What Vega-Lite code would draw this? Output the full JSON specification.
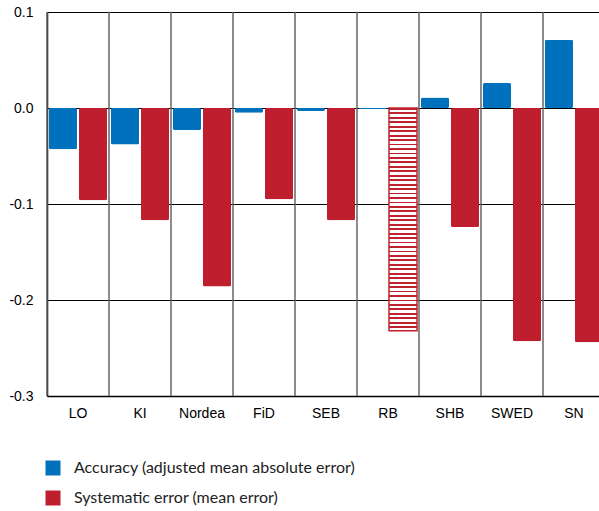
{
  "$schema": "https://vega.github.io/schema/vega-lite/v6.json",
  "width": 552,
  "height": 384,
  "autosize": {"type": "none"},
  "padding": {"left": 47, "top": 12, "right": 0, "bottom": 115},
  "background": "white",
  "config": {
    "view": {"stroke": null},
    "font": "Liberation Sans",
    "axisX": {
      "title": null, "labelAngle": 0, "labelAlign": "center", "labelBaseline": "top",
      "labelFont": "Liberation Sans", "labelFontSize": 14, "labelColor": "#000000",
      "labelPadding": 10, "ticks": false, "tickSize": 0, "grid": false, "bandPosition": 0.5,
      "domain": true, "domainColor": "#000000", "domainWidth": 1.5
    },
    "axisY": {"labelFont": "Liberation Sans"}
  },
  "data": {
    "values": [
      {"bank": "LO", "series": "Accuracy (adjusted mean absolute error)", "value": -0.043},
      {"bank": "LO", "series": "Systematic error (mean error)", "value": -0.096},
      {"bank": "KI", "series": "Accuracy (adjusted mean absolute error)", "value": -0.038},
      {"bank": "KI", "series": "Systematic error (mean error)", "value": -0.117},
      {"bank": "Nordea", "series": "Accuracy (adjusted mean absolute error)", "value": -0.023},
      {"bank": "Nordea", "series": "Systematic error (mean error)", "value": -0.186},
      {"bank": "FiD", "series": "Accuracy (adjusted mean absolute error)", "value": -0.005},
      {"bank": "FiD", "series": "Systematic error (mean error)", "value": -0.095},
      {"bank": "SEB", "series": "Accuracy (adjusted mean absolute error)", "value": -0.003},
      {"bank": "SEB", "series": "Systematic error (mean error)", "value": -0.117},
      {"bank": "RB", "series": "Accuracy (adjusted mean absolute error)", "value": -0.001},
      {"bank": "RB", "series": "Systematic error (mean error)", "value": -0.232},
      {"bank": "SHB", "series": "Accuracy (adjusted mean absolute error)", "value": 0.011},
      {"bank": "SHB", "series": "Systematic error (mean error)", "value": -0.124},
      {"bank": "SWED", "series": "Accuracy (adjusted mean absolute error)", "value": 0.026},
      {"bank": "SWED", "series": "Systematic error (mean error)", "value": -0.243},
      {"bank": "SN", "series": "Accuracy (adjusted mean absolute error)", "value": 0.071},
      {"bank": "SN", "series": "Systematic error (mean error)", "value": -0.244}
    ]
  },
  "layer": [
    {
      "transform": [{"filter": "datum.series === 'Accuracy (adjusted mean absolute error)'"}],
      "mark": {"type": "rule", "color": "#666666", "strokeWidth": 1.5},
      "encoding": {
        "x": {
          "field": "bank", "type": "nominal", "bandPosition": 0,
          "sort": ["LO", "KI", "Nordea", "FiD", "SEB", "RB", "SHB", "SWED", "SN"],
          "scale": {"range": [0, 558], "paddingInner": 0, "paddingOuter": 0},
          "axis": {"bandPosition": 0.5, "labelAlign": "center"}
        }
      }
    },
    {
      "transform": [{"filter": "!(datum.bank === 'RB' && datum.series === 'Systematic error (mean error)')"}],
      "mark": {"type": "bar", "cornerRadius": 1.5},
      "encoding": {
        "x": {
          "field": "bank", "type": "nominal",
          "sort": ["LO", "KI", "Nordea", "FiD", "SEB", "RB", "SHB", "SWED", "SN"],
          "scale": {"range": [0, 558], "paddingInner": 0, "paddingOuter": 0},
          "axis": {"bandPosition": 0.5, "labelAlign": "center"}
        },
        "xOffset": {
          "field": "series", "type": "nominal",
          "sort": ["Accuracy (adjusted mean absolute error)", "Systematic error (mean error)"],
          "scale": {"paddingInner": 0.0667, "paddingOuter": 0.0667}
        },
        "y": {
          "field": "value", "type": "quantitative",
          "scale": {"domain": [-0.3, 0.1], "nice": false, "zero": false},
          "axis": {
            "title": null, "values": [-0.3, -0.2, -0.1, 0, 0.1], "format": ".1f",
            "labelExpr": "replace(datum.label, '\u2212', '-')",
            "labelFont": "Liberation Sans",
            "labelFontSize": 14, "labelColor": "#000000", "labelPadding": 14,
            "ticks": false, "tickSize": 0,
            "grid": true, "gridColor": "#000000", "gridWidth": 1.2,
            "domain": true, "domainColor": "#000000", "domainWidth": 1.5
          }
        },
        "color": {
          "field": "series", "type": "nominal",
          "scale": {
            "domain": ["Accuracy (adjusted mean absolute error)", "Systematic error (mean error)"],
            "range": ["#0071bc", "#be1e2d"]
          },
          "legend": {
            "title": null, "orient": "none", "legendX": -2, "legendY": 448,
            "symbolType": "square", "symbolSize": 225, "symbolStrokeWidth": 0,
            "labelFont": "Lato", "labelFontSize": 16, "labelColor": "#222222",
            "labelOffset": 13, "rowPadding": 14, "labelLimit": 500
          }
        }
      }
    },
    {
      "transform": [{"filter": "datum.bank === 'RB' && datum.series === 'Systematic error (mean error)'"}],
      "mark": {
        "type": "bar",
        "stroke": "#c0232f",
        "strokeWidth": 1.5,
        "fill": {
          "gradient": "linear", "x1": 0, "y1": 0, "x2": 0, "y2": 1,
          "stops": [
            {"offset": 0, "color": "#c0232f"}, {"offset": 0.008, "color": "#c0232f"}, {"offset": 0.008, "color": "#ffffff"}, {"offset": 0.02, "color": "#ffffff"},
            {"offset": 0.02, "color": "#c0232f"}, {"offset": 0.028, "color": "#c0232f"}, {"offset": 0.028, "color": "#ffffff"}, {"offset": 0.04, "color": "#ffffff"},
            {"offset": 0.04, "color": "#c0232f"}, {"offset": 0.048, "color": "#c0232f"}, {"offset": 0.048, "color": "#ffffff"}, {"offset": 0.06, "color": "#ffffff"},
            {"offset": 0.06, "color": "#c0232f"}, {"offset": 0.068, "color": "#c0232f"}, {"offset": 0.068, "color": "#ffffff"}, {"offset": 0.08, "color": "#ffffff"},
            {"offset": 0.08, "color": "#c0232f"}, {"offset": 0.088, "color": "#c0232f"}, {"offset": 0.088, "color": "#ffffff"}, {"offset": 0.1, "color": "#ffffff"},
            {"offset": 0.1, "color": "#c0232f"}, {"offset": 0.108, "color": "#c0232f"}, {"offset": 0.108, "color": "#ffffff"}, {"offset": 0.12, "color": "#ffffff"},
            {"offset": 0.12, "color": "#c0232f"}, {"offset": 0.128, "color": "#c0232f"}, {"offset": 0.128, "color": "#ffffff"}, {"offset": 0.14, "color": "#ffffff"},
            {"offset": 0.14, "color": "#c0232f"}, {"offset": 0.148, "color": "#c0232f"}, {"offset": 0.148, "color": "#ffffff"}, {"offset": 0.16, "color": "#ffffff"},
            {"offset": 0.16, "color": "#c0232f"}, {"offset": 0.168, "color": "#c0232f"}, {"offset": 0.168, "color": "#ffffff"}, {"offset": 0.18, "color": "#ffffff"},
            {"offset": 0.18, "color": "#c0232f"}, {"offset": 0.188, "color": "#c0232f"}, {"offset": 0.188, "color": "#ffffff"}, {"offset": 0.2, "color": "#ffffff"},
            {"offset": 0.2, "color": "#c0232f"}, {"offset": 0.208, "color": "#c0232f"}, {"offset": 0.208, "color": "#ffffff"}, {"offset": 0.22, "color": "#ffffff"},
            {"offset": 0.22, "color": "#c0232f"}, {"offset": 0.228, "color": "#c0232f"}, {"offset": 0.228, "color": "#ffffff"}, {"offset": 0.24, "color": "#ffffff"},
            {"offset": 0.24, "color": "#c0232f"}, {"offset": 0.248, "color": "#c0232f"}, {"offset": 0.248, "color": "#ffffff"}, {"offset": 0.26, "color": "#ffffff"},
            {"offset": 0.26, "color": "#c0232f"}, {"offset": 0.268, "color": "#c0232f"}, {"offset": 0.268, "color": "#ffffff"}, {"offset": 0.28, "color": "#ffffff"},
            {"offset": 0.28, "color": "#c0232f"}, {"offset": 0.288, "color": "#c0232f"}, {"offset": 0.288, "color": "#ffffff"}, {"offset": 0.3, "color": "#ffffff"},
            {"offset": 0.3, "color": "#c0232f"}, {"offset": 0.308, "color": "#c0232f"}, {"offset": 0.308, "color": "#ffffff"}, {"offset": 0.32, "color": "#ffffff"},
            {"offset": 0.32, "color": "#c0232f"}, {"offset": 0.328, "color": "#c0232f"}, {"offset": 0.328, "color": "#ffffff"}, {"offset": 0.34, "color": "#ffffff"},
            {"offset": 0.34, "color": "#c0232f"}, {"offset": 0.348, "color": "#c0232f"}, {"offset": 0.348, "color": "#ffffff"}, {"offset": 0.36, "color": "#ffffff"},
            {"offset": 0.36, "color": "#c0232f"}, {"offset": 0.368, "color": "#c0232f"}, {"offset": 0.368, "color": "#ffffff"}, {"offset": 0.38, "color": "#ffffff"},
            {"offset": 0.38, "color": "#c0232f"}, {"offset": 0.388, "color": "#c0232f"}, {"offset": 0.388, "color": "#ffffff"}, {"offset": 0.4, "color": "#ffffff"},
            {"offset": 0.4, "color": "#c0232f"}, {"offset": 0.408, "color": "#c0232f"}, {"offset": 0.408, "color": "#ffffff"}, {"offset": 0.42, "color": "#ffffff"},
            {"offset": 0.42, "color": "#c0232f"}, {"offset": 0.428, "color": "#c0232f"}, {"offset": 0.428, "color": "#ffffff"}, {"offset": 0.44, "color": "#ffffff"},
            {"offset": 0.44, "color": "#c0232f"}, {"offset": 0.448, "color": "#c0232f"}, {"offset": 0.448, "color": "#ffffff"}, {"offset": 0.46, "color": "#ffffff"},
            {"offset": 0.46, "color": "#c0232f"}, {"offset": 0.468, "color": "#c0232f"}, {"offset": 0.468, "color": "#ffffff"}, {"offset": 0.48, "color": "#ffffff"},
            {"offset": 0.48, "color": "#c0232f"}, {"offset": 0.488, "color": "#c0232f"}, {"offset": 0.488, "color": "#ffffff"}, {"offset": 0.5, "color": "#ffffff"},
            {"offset": 0.5, "color": "#c0232f"}, {"offset": 0.508, "color": "#c0232f"}, {"offset": 0.508, "color": "#ffffff"}, {"offset": 0.52, "color": "#ffffff"},
            {"offset": 0.52, "color": "#c0232f"}, {"offset": 0.528, "color": "#c0232f"}, {"offset": 0.528, "color": "#ffffff"}, {"offset": 0.54, "color": "#ffffff"},
            {"offset": 0.54, "color": "#c0232f"}, {"offset": 0.548, "color": "#c0232f"}, {"offset": 0.548, "color": "#ffffff"}, {"offset": 0.56, "color": "#ffffff"},
            {"offset": 0.56, "color": "#c0232f"}, {"offset": 0.568, "color": "#c0232f"}, {"offset": 0.568, "color": "#ffffff"}, {"offset": 0.58, "color": "#ffffff"},
            {"offset": 0.58, "color": "#c0232f"}, {"offset": 0.588, "color": "#c0232f"}, {"offset": 0.588, "color": "#ffffff"}, {"offset": 0.6, "color": "#ffffff"},
            {"offset": 0.6, "color": "#c0232f"}, {"offset": 0.608, "color": "#c0232f"}, {"offset": 0.608, "color": "#ffffff"}, {"offset": 0.62, "color": "#ffffff"},
            {"offset": 0.62, "color": "#c0232f"}, {"offset": 0.628, "color": "#c0232f"}, {"offset": 0.628, "color": "#ffffff"}, {"offset": 0.64, "color": "#ffffff"},
            {"offset": 0.64, "color": "#c0232f"}, {"offset": 0.648, "color": "#c0232f"}, {"offset": 0.648, "color": "#ffffff"}, {"offset": 0.66, "color": "#ffffff"},
            {"offset": 0.66, "color": "#c0232f"}, {"offset": 0.668, "color": "#c0232f"}, {"offset": 0.668, "color": "#ffffff"}, {"offset": 0.68, "color": "#ffffff"},
            {"offset": 0.68, "color": "#c0232f"}, {"offset": 0.688, "color": "#c0232f"}, {"offset": 0.688, "color": "#ffffff"}, {"offset": 0.7, "color": "#ffffff"},
            {"offset": 0.7, "color": "#c0232f"}, {"offset": 0.708, "color": "#c0232f"}, {"offset": 0.708, "color": "#ffffff"}, {"offset": 0.72, "color": "#ffffff"},
            {"offset": 0.72, "color": "#c0232f"}, {"offset": 0.728, "color": "#c0232f"}, {"offset": 0.728, "color": "#ffffff"}, {"offset": 0.74, "color": "#ffffff"},
            {"offset": 0.74, "color": "#c0232f"}, {"offset": 0.748, "color": "#c0232f"}, {"offset": 0.748, "color": "#ffffff"}, {"offset": 0.76, "color": "#ffffff"},
            {"offset": 0.76, "color": "#c0232f"}, {"offset": 0.768, "color": "#c0232f"}, {"offset": 0.768, "color": "#ffffff"}, {"offset": 0.78, "color": "#ffffff"},
            {"offset": 0.78, "color": "#c0232f"}, {"offset": 0.788, "color": "#c0232f"}, {"offset": 0.788, "color": "#ffffff"}, {"offset": 0.8, "color": "#ffffff"},
            {"offset": 0.8, "color": "#c0232f"}, {"offset": 0.808, "color": "#c0232f"}, {"offset": 0.808, "color": "#ffffff"}, {"offset": 0.82, "color": "#ffffff"},
            {"offset": 0.82, "color": "#c0232f"}, {"offset": 0.828, "color": "#c0232f"}, {"offset": 0.828, "color": "#ffffff"}, {"offset": 0.84, "color": "#ffffff"},
            {"offset": 0.84, "color": "#c0232f"}, {"offset": 0.848, "color": "#c0232f"}, {"offset": 0.848, "color": "#ffffff"}, {"offset": 0.86, "color": "#ffffff"},
            {"offset": 0.86, "color": "#c0232f"}, {"offset": 0.868, "color": "#c0232f"}, {"offset": 0.868, "color": "#ffffff"}, {"offset": 0.88, "color": "#ffffff"},
            {"offset": 0.88, "color": "#c0232f"}, {"offset": 0.888, "color": "#c0232f"}, {"offset": 0.888, "color": "#ffffff"}, {"offset": 0.9, "color": "#ffffff"},
            {"offset": 0.9, "color": "#c0232f"}, {"offset": 0.908, "color": "#c0232f"}, {"offset": 0.908, "color": "#ffffff"}, {"offset": 0.92, "color": "#ffffff"},
            {"offset": 0.92, "color": "#c0232f"}, {"offset": 0.928, "color": "#c0232f"}, {"offset": 0.928, "color": "#ffffff"}, {"offset": 0.94, "color": "#ffffff"},
            {"offset": 0.94, "color": "#c0232f"}, {"offset": 0.948, "color": "#c0232f"}, {"offset": 0.948, "color": "#ffffff"}, {"offset": 0.96, "color": "#ffffff"},
            {"offset": 0.96, "color": "#c0232f"}, {"offset": 0.968, "color": "#c0232f"}, {"offset": 0.968, "color": "#ffffff"}, {"offset": 0.98, "color": "#ffffff"},
            {"offset": 0.98, "color": "#c0232f"}, {"offset": 0.988, "color": "#c0232f"}, {"offset": 0.988, "color": "#ffffff"}, {"offset": 1, "color": "#ffffff"}
          ]
        }
      },
      "encoding": {
        "x": {
          "field": "bank", "type": "nominal",
          "sort": ["LO", "KI", "Nordea", "FiD", "SEB", "RB", "SHB", "SWED", "SN"],
          "scale": {"range": [0, 558], "paddingInner": 0, "paddingOuter": 0},
          "axis": {"bandPosition": 0.5, "labelAlign": "center"}
        },
        "xOffset": {
          "field": "series", "type": "nominal",
          "sort": ["Accuracy (adjusted mean absolute error)", "Systematic error (mean error)"],
          "scale": {"paddingInner": 0.0667, "paddingOuter": 0.0667}
        },
        "y": {"field": "value", "type": "quantitative"}
      }
    }
  ]
}
